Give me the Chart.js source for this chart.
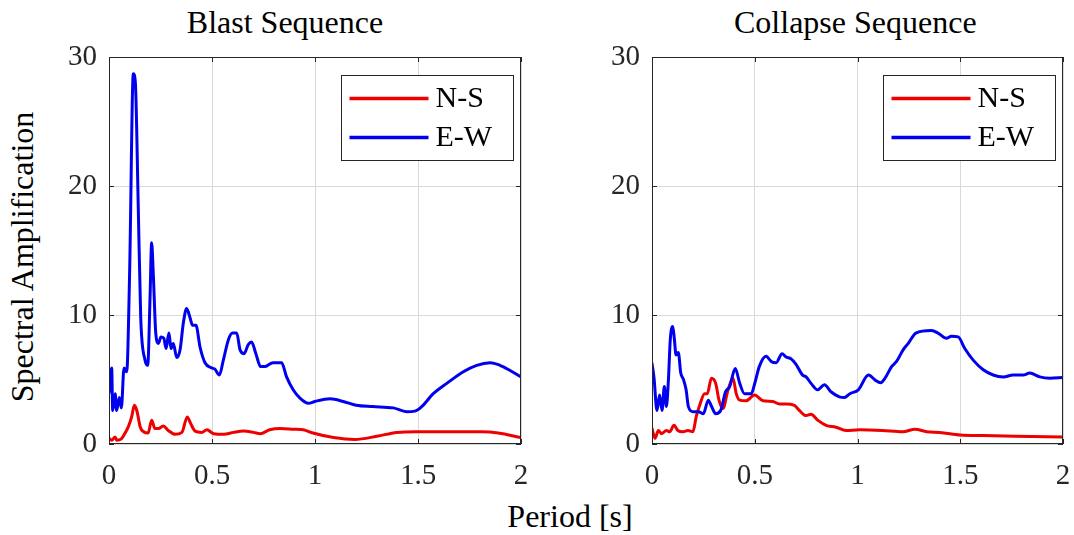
<!DOCTYPE html>
<html>
<head>
<meta charset="utf-8">
<script src="https://cdn.jsdelivr.net/npm/chart.js@4.4.1/dist/chart.umd.min.js"></script>
<style>
  body { margin: 0; background: #fff; }
  #wrap { position: relative; width: 1074px; height: 535px; overflow: hidden; font-family: "Liberation Serif", "Times New Roman", serif; color: #000; }
  canvas { position: absolute; top: 0; }
  .lbl { position: absolute; font-size: 32px; line-height: 32px; white-space: nowrap; }
</style>
</head>
<body>
<div id="wrap">
  <div class="lbl" style="left:185px; top:6px; width:200px; text-align:center;">Blast Sequence</div>
  <div class="lbl" style="left:734px; top:6px; width:240px; text-align:center;">Collapse Sequence</div>
  <div class="lbl" style="left:22px; top:257px; transform: translate(-50%,-50%) rotate(-90deg);">Spectral Amplification</div>
  <div class="lbl" style="left:470px; top:500px; width:200px; text-align:center;">Period [s]</div>
  <canvas id="blastChart" width="545" height="535" style="left:0; width:545px; height:535px;"></canvas>
  <canvas id="collapseChart" width="529" height="535" style="left:545px; width:529px; height:535px;"></canvas>
</div>
<script>
// tick labels
const periodTicks = [0, 0.5, 1, 1.5, 2];
const ampTicks = [0, 10, 20, 30];
const seriesNames = ['N-S', 'E-W'];

// Blast sequence
const blastEwPeriod = [0, 0.013, 0.018, 0.03, 0.037, 0.05, 0.06, 0.073, 0.086, 0.10, 0.118, 0.128, 0.142, 0.154, 0.175, 0.188, 0.199, 0.207, 0.215, 0.227, 0.24, 0.252, 0.266, 0.277, 0.291, 0.301, 0.312, 0.329, 0.345, 0.361, 0.377, 0.393, 0.406, 0.422, 0.442, 0.466, 0.498, 0.514, 0.536, 0.555, 0.58, 0.60, 0.62, 0.636, 0.655, 0.676, 0.692, 0.713, 0.736, 0.757, 0.78, 0.797, 0.838, 0.862, 0.894, 0.927, 0.968, 1.0, 1.073, 1.137, 1.20, 1.28, 1.38, 1.445, 1.485, 1.518, 1.574, 1.64, 1.72, 1.785, 1.85, 1.898, 1.947, 2.0];
const blastEwAmp = [3.95, 5.9, 2.6, 3.9, 2.6, 3.6, 2.8, 5.9, 5.6, 13.2, 28.7, 28.0, 18.4, 9.8, 6.5, 6.1, 11.2, 15.6, 13.2, 8.6, 7.8, 8.3, 8.2, 7.4, 8.6, 7.4, 7.8, 6.7, 7.3, 9.4, 10.5, 9.8, 9.2, 9.2, 7.5, 6.3, 5.9, 5.8, 5.35, 6.5, 8.1, 8.6, 8.6, 7.3, 7.0, 7.7, 7.9, 7.0, 6.0, 6.0, 6.2, 6.3, 6.3, 5.2, 4.2, 3.55, 3.15, 3.3, 3.5, 3.3, 3.0, 2.9, 2.8, 2.5, 2.55, 2.9, 3.9, 4.7, 5.6, 6.1, 6.3, 6.1, 5.7, 5.2];
const blastNsPeriod = [0, 0.013, 0.03, 0.037, 0.06, 0.078, 0.094, 0.11, 0.123, 0.135, 0.152, 0.168, 0.19, 0.207, 0.223, 0.24, 0.264, 0.288, 0.32, 0.354, 0.38, 0.396, 0.418, 0.45, 0.475, 0.508, 0.557, 0.605, 0.653, 0.702, 0.734, 0.78, 0.83, 0.894, 0.943, 0.99, 1.09, 1.194, 1.30, 1.397, 1.49, 1.65, 1.81, 1.89, 2.0];
const blastNsAmp = [0.45, 0.3, 0.55, 0.3, 0.4, 0.85, 1.35, 2.1, 3.0, 2.6, 1.3, 0.95, 0.85, 1.85, 1.2, 1.2, 1.4, 1.05, 0.75, 0.9, 2.1, 1.6, 1.0, 0.9, 1.1, 0.8, 0.75, 0.9, 1.0, 0.9, 0.8, 1.1, 1.2, 1.15, 1.1, 0.85, 0.5, 0.35, 0.6, 0.9, 0.95, 0.95, 0.95, 0.85, 0.5];

// Collapse sequence
const collapseEwPeriod = [0, 0.01, 0.024, 0.037, 0.049, 0.06, 0.07, 0.08, 0.089, 0.101, 0.109, 0.117, 0.128, 0.14, 0.153, 0.166, 0.177, 0.201, 0.226, 0.25, 0.274, 0.29, 0.31, 0.334, 0.358, 0.378, 0.405, 0.427, 0.45, 0.483, 0.50, 0.522, 0.555, 0.58, 0.604, 0.633, 0.652, 0.677, 0.70, 0.732, 0.75, 0.774, 0.806, 0.839, 0.871, 0.912, 0.936, 0.963, 1.004, 1.053, 1.086, 1.113, 1.134, 1.166, 1.19, 1.222, 1.247, 1.284, 1.36, 1.392, 1.433, 1.457, 1.49, 1.522, 1.563, 1.612, 1.66, 1.71, 1.757, 1.806, 1.838, 1.887, 1.936, 2.0];
const collapseEwAmp = [6.25, 5.1, 2.6, 3.8, 2.6, 4.45, 2.9, 5.0, 8.1, 9.1, 8.1, 6.9, 7.1, 5.5, 5.0, 4.2, 2.9, 2.5, 2.5, 2.35, 3.4, 2.9, 2.35, 2.6, 4.05, 4.45, 5.85, 4.7, 3.9, 3.9, 4.7, 6.0, 6.8, 6.4, 6.3, 7.0, 6.75, 6.6, 6.2, 5.35, 5.2, 4.7, 4.2, 4.6, 4.05, 3.65, 3.6, 3.9, 4.2, 5.35, 4.95, 4.75, 5.1, 6.0, 6.4, 7.3, 7.8, 8.6, 8.8, 8.6, 8.2, 8.35, 8.3, 7.4, 6.5, 5.75, 5.35, 5.2, 5.35, 5.35, 5.5, 5.2, 5.1, 5.15];
const collapseNsPeriod = [0, 0.015, 0.031, 0.047, 0.07, 0.086, 0.107, 0.126, 0.15, 0.175, 0.199, 0.215, 0.232, 0.256, 0.269, 0.289, 0.31, 0.326, 0.345, 0.37, 0.394, 0.41, 0.426, 0.458, 0.499, 0.54, 0.588, 0.62, 0.652, 0.693, 0.717, 0.75, 0.774, 0.806, 0.847, 0.895, 0.944, 1.01, 1.12, 1.22, 1.28, 1.337, 1.4, 1.5, 1.61, 1.77, 2.0];
const collapseNsAmp = [1.2, 0.45, 1.05, 0.8, 1.05, 0.95, 1.45, 1.05, 0.95, 1.05, 0.95, 2.1, 3.0, 3.9, 3.9, 5.1, 4.7, 3.4, 2.75, 4.2, 5.1, 3.9, 3.4, 3.35, 3.8, 3.35, 3.3, 3.1, 3.1, 3.0, 2.6, 2.2, 2.3, 1.85, 1.45, 1.3, 1.05, 1.1, 1.05, 0.95, 1.15, 0.95, 0.9, 0.7, 0.65, 0.6, 0.55];

const RED = '#ee0000';
const BLUE = '#0000ee';
const AXIS_COLOR = '#262626';
const FONT = '"Liberation Serif", "Times New Roman", serif';

// axes box, inward tick marks and the boxed legend, MATLAB style
const matlabFrame = {
    id: 'matlabFrame',
    afterDraw(chart) {
        const { ctx, chartArea: a, scales } = chart;
        ctx.save();
        ctx.strokeStyle = AXIS_COLOR;
        ctx.lineWidth = 1;
        ctx.strokeRect(Math.round(a.left) + 0.5, Math.round(a.top) + 0.5, Math.round(a.width) - 1, Math.round(a.height) - 1);

        const tl = 5;
        ctx.beginPath();
        scales.x.ticks.forEach(t => {
            const px = Math.round(scales.x.getPixelForValue(t.value)) + 0.5;
            ctx.moveTo(px, a.bottom); ctx.lineTo(px, a.bottom - tl);
            ctx.moveTo(px, a.top); ctx.lineTo(px, a.top + tl);
        });
        scales.y.ticks.forEach(t => {
            const py = Math.round(scales.y.getPixelForValue(t.value)) + 0.5;
            ctx.moveTo(a.left, py); ctx.lineTo(a.left + tl, py);
            ctx.moveTo(a.right, py); ctx.lineTo(a.right - tl, py);
        });
        ctx.stroke();

        // legend
        const w = 172, h = 85;
        const bx = Math.round(a.right - 8 - w) + 0.5;
        const by = Math.round(a.top + 18) + 0.5;
        ctx.fillStyle = '#fff';
        ctx.fillRect(bx, by, w, h);
        ctx.strokeRect(bx, by, w, h);
        ctx.font = '30px ' + FONT;
        ctx.textBaseline = 'middle';
        ctx.textAlign = 'left';
        chart.data.datasets.forEach((ds, i) => {
            const y = by + 23 + i * 39;
            ctx.strokeStyle = ds.borderColor;
            ctx.lineWidth = 3.5;
            ctx.beginPath();
            ctx.moveTo(bx + 8, y);
            ctx.lineTo(bx + 87, y);
            ctx.stroke();
            ctx.fillStyle = '#000';
            ctx.fillText(ds.label, bx + 94, y + 1);
        });
        ctx.restore();
    }
};

function toPoints(xs, ys) {
    return xs.map((x, i) => ({ x: x, y: ys[i] }));
}

function makeChart(canvasId, nsX, nsY, ewX, ewY, yWidth, padRight) {
    const ctx = document.getElementById(canvasId).getContext('2d');
    return new Chart(ctx, {
        type: 'line',
        data: {
            datasets: [
                { label: seriesNames[0], data: toPoints(nsX, nsY), borderColor: RED, backgroundColor: RED, order: 1 },
                { label: seriesNames[1], data: toPoints(ewX, ewY), borderColor: BLUE, backgroundColor: BLUE, order: 0 }
            ]
        },
        options: {
            responsive: false,
            animation: false,
            devicePixelRatio: 1,
            parsing: false,
            elements: {
                point: { radius: 0 },
                line: { borderWidth: 3, cubicInterpolationMode: 'monotone', fill: false, borderJoinStyle: 'round', borderCapStyle: 'round' }
            },
            layout: { padding: { left: 0, top: 57, right: padRight, bottom: 0 } },
            plugins: {
                legend: { display: false },
                tooltip: { enabled: false },
                title: { display: false }
            },
            scales: {
                x: {
                    type: 'linear',
                    min: 0,
                    max: 2,
                    afterBuildTicks: scale => { scale.ticks = periodTicks.map(v => ({ value: v })); },
                    afterFit: scale => {
                        scale.height = 91;
                        scale.paddingLeft = 0;
                        scale.paddingRight = 0;
                    },
                    grid: { color: '#d9d9d9', lineWidth: 1, drawTicks: false },
                    border: { display: false },
                    ticks: { color: AXIS_COLOR, padding: 15, maxRotation: 0, font: { family: FONT, size: 29 }, callback: v => String(v) }
                },
                y: {
                    type: 'linear',
                    min: 0,
                    max: 30,
                    afterBuildTicks: scale => { scale.ticks = ampTicks.map(v => ({ value: v })); },
                    afterFit: scale => {
                        scale.width = yWidth;
                        scale.paddingTop = 0;
                        scale.paddingBottom = 0;
                    },
                    grid: { color: '#d9d9d9', lineWidth: 1, drawTicks: false },
                    border: { display: false },
                    ticks: { color: AXIS_COLOR, padding: 12, font: { family: FONT, size: 29 }, callback: v => String(v) }
                }
            }
        },
        plugins: [matlabFrame]
    });
}

makeChart('blastChart', blastNsPeriod, blastNsAmp, blastEwPeriod, blastEwAmp, 109, 24);
makeChart('collapseChart', collapseNsPeriod, collapseNsAmp, collapseEwPeriod, collapseEwAmp, 107, 11);
</script>
</body>
</html>
